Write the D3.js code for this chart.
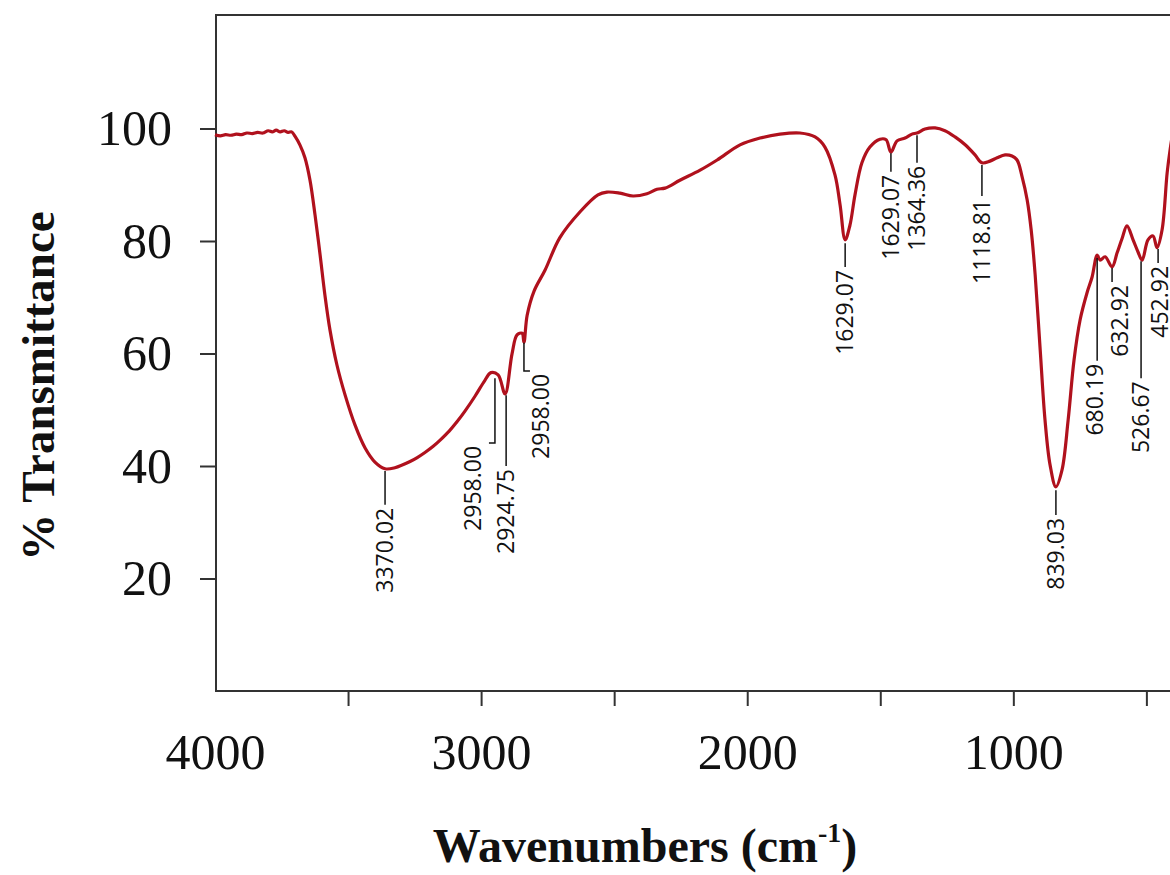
<!DOCTYPE html>
<html>
<head>
    <meta charset="utf-8">
    <title>FTIR spectrum</title>
    <script src="https://cdn.jsdelivr.net/npm/d3@7"></script>
    <style>
        html, body {
            margin: 0;
            background-color: #fff;
        }
        svg .frame {
            fill: none;
            stroke: #333;
            stroke-width: 2;
        }
        svg .axis line {
            stroke: #333;
            stroke-width: 2;
        }
        svg .axis text {
            font-family: "Liberation Serif", "DejaVu Serif", serif;
            font-size: 50px;
            fill: #111;
        }
        svg .spectrum {
            fill: none;
            stroke: #b0111d;
            stroke-width: 3.2;
            stroke-linejoin: round;
        }
        svg .peak text {
            font-family: "Open Sans", sans-serif;
            font-size: 23px;
            fill: #111;
        }
        svg .title {
            font-family: "Liberation Serif", "DejaVu Serif", serif;
            font-weight: bold;
            fill: #111;
        }
    </style>
</head>
<body>
<svg></svg>
<script>
    // spectrum: wavenumber (cm-1) and % transmittance
    var wavenumber = [
        4000, 3980, 3960, 3940, 3920, 3900, 3880, 3860, 3840, 3820,
        3800, 3785, 3770, 3755, 3740, 3725, 3712, 3699, 3681, 3662,
        3643, 3624, 3605, 3587, 3568, 3542, 3511, 3474, 3436, 3399,
        3361, 3324, 3267, 3240, 3211, 3180, 3154, 3120, 3090, 3060,
        3023, 2990, 2963, 2936, 2910, 2884, 2865, 2846, 2839, 2827,
        2801, 2760, 2704, 2628, 2561, 2527, 2478, 2429, 2377, 2339,
        2309, 2253, 2177, 2113, 2027, 1952, 1877, 1802, 1745, 1708,
        1670, 1651, 1632, 1614, 1595, 1569, 1539, 1501, 1478, 1460,
        1437, 1407, 1381, 1362, 1332, 1294, 1257, 1219, 1181, 1144,
        1118, 1088, 1061, 1031, 1005, 986, 967, 948, 933, 918,
        899, 881, 862, 840, 817, 794, 772, 749, 723, 704,
        685, 674, 655, 629, 610, 591, 573, 550, 531, 516,
        494, 475, 460, 441, 422, 411, 393
    ];
    var transmittance = [
        98.9, 98.7, 98.9, 98.8, 99.0, 98.9, 99.2, 99.1, 99.3, 99.2,
        99.6, 99.4, 99.7, 99.4, 99.6, 99.3, 99.4, 98.6, 97.1, 94.8,
        90.8, 84.6, 77.5, 70.4, 64.2, 58.0, 52.6, 47.3, 43.2, 40.7,
        39.5, 39.7, 40.8, 41.5, 42.4, 43.5, 44.6, 46.2, 47.9, 49.8,
        52.4, 54.9, 56.6, 56.2, 52.8, 59.9, 63.3, 63.6, 62.0, 66.8,
        71.1, 74.8, 80.6, 85.2, 88.2, 88.7, 88.5, 88.0, 88.4, 89.2,
        89.4, 90.8, 92.6, 94.4, 97.1, 98.3, 99.0, 99.2, 98.5, 96.7,
        91.7, 86.4, 80.2, 82.8, 88.2, 93.9, 96.7, 98.1, 98.0, 95.8,
        97.8, 98.3, 99.0, 99.2, 99.9, 100.1, 99.6, 98.5, 97.1, 95.3,
        93.9, 94.2, 94.8, 95.3, 95.1, 94.4, 91.4, 87.3, 82.0, 74.0,
        60.6, 48.2, 40.2, 36.3, 39.3, 48.2, 58.8, 66.0, 70.8, 73.6,
        77.5, 76.6, 77.2, 75.4, 77.9, 80.5, 82.7, 80.2, 78.0, 76.6,
        80.2, 80.9, 78.8, 82.0, 92.1, 96.2, 101.5
    ];

    // axis ticks
    var xTicks = [3500, 3000, 2500, 2000, 1500, 1000, 500];
    var xLabels = [4000, 3000, 2000, 1000];
    var yTicks = [20, 40, 60, 80, 100];

    // peak annotations: label, wavenumber of leader, leader from / to (% T)
    var peakText = ['3370.02', '2958.00', '2924.75', '2958.00', '1629.07', '1629.07',
                    '1364.36', '1118.81', '839.03', '680.19', '632.92', '526.67', '452.92'];
    var peakWn   = [3361, 2948, 2906, 2839, 1632, 1460, 1362, 1118, 840, 685, 629, 520, 456];
    var peakFrom = [39.1, 55.6, 52.6, 61.9, 79.6, 95.6, 98.8, 93.5, 35.7, 77.0, 75.2, 76.4, 78.6];
    var peakTo   = [33.1, 44.1, 40.0, 56.9, 75.4, 92.3, 93.9, 88.0, 31.3, 58.7, 72.7, 55.6, 76.1];

    (function () {
        var w = 1170,
            h = 875;

        var svg = d3.select('svg')
                .attr('width', w)
                .attr('height', h);

        var x = d3.scaleLinear().domain([4000, 400]).range([215, 1173]),
            y = d3.scaleLinear().domain([0, 120]).range([691, 16]);

        // frame (right edge is cropped in the original)
        svg.append('path')
            .attr('class', 'frame')
            .attr('d', 'M1190,15H216V691H1190');

        // x ticks, then x labels
        svg.append('g')
            .attr('class', 'axis')
            .attr('transform', 'translate(0,691)')
            .call(d3.axisBottom(x).tickValues(xTicks).tickSize(15).tickFormat(''))
            .call(function (g) { g.select('.domain').remove(); });

        svg.append('g')
            .attr('class', 'axis')
            .attr('transform', 'translate(0,691)')
            .call(d3.axisBottom(x).tickValues(xLabels).tickSize(0).tickPadding(42)
                .tickFormat(d3.format('d')))
            .call(function (g) {
                g.select('.domain').remove();
                g.selectAll('text').attr('font-family', null).attr('font-size', null);
            });

        // y axis
        svg.append('g')
            .attr('class', 'axis')
            .attr('transform', 'translate(216,0)')
            .call(d3.axisLeft(y).tickValues(yTicks).tickSize(16).tickPadding(28))
            .call(function (g) {
                g.select('.domain').remove();
                g.selectAll('text').attr('font-family', null).attr('font-size', null);
            });

        // spectrum
        var pts = d3.zip(wavenumber, transmittance);
        svg.append('path')
            .datum(pts)
            .attr('class', 'spectrum')
            .attr('d', d3.line()
                .x(function (d) { return x(d[0]); })
                .y(function (d) { return y(d[1]); })
                .curve(d3.curveCatmullRom.alpha(0.5)));

        // peak leaders + labels
        var elbow = [0, -6, 0, 6, 0, 0, 0, 0, 0, 0, 0, 0, 0],   // px, leader foot
            shift = [0, -22, 0, 17, 0, 0, 0, 0, 0, -2, 8, 0, 2]; // px, label offset

        var peaks = svg.selectAll('.peak')
            .data(peakText)
            .enter().append('g')
            .attr('class', 'peak');

        peaks.append('polyline')
            .attr('fill', 'none')
            .attr('stroke', '#111')
            .attr('stroke-width', 1.5)
            .attr('points', function (d, i) {
                var px = x(peakWn[i]), y0 = y(peakFrom[i]), y1 = y(peakTo[i]);
                return [px, y0, px, y1, px + elbow[i], y1].join(' ');
            });

        peaks.append('text')
            .text(function (d) { return d; })
            .attr('text-anchor', 'end')
            .attr('dy', '0.36em')
            .attr('transform', function (d, i) {
                var px = x(peakWn[i]) + shift[i],
                    top = y(peakTo[i]) + 3;
                return 'translate(' + px + ',' + top + ')rotate(-90)';
            });

        // titles
        svg.append('text')
            .attr('class', 'title')
            .attr('font-size', 47)
            .attr('text-anchor', 'middle')
            .attr('dy', '0.35em')
            .attr('transform', 'translate(38,386)rotate(-90)')
            .text('% Transmittance');

        var xt = svg.append('text')
            .attr('class', 'title')
            .attr('font-size', 48)
            .attr('text-anchor', 'middle')
            .attr('x', 645)
            .attr('y', 862);
        xt.append('tspan').text('Wavenumbers (cm');
        xt.append('tspan').attr('font-size', 28).attr('dy', -20).text('-1');
        xt.append('tspan').attr('dy', 20).text(')');
    })();
</script>
</body>
</html>
